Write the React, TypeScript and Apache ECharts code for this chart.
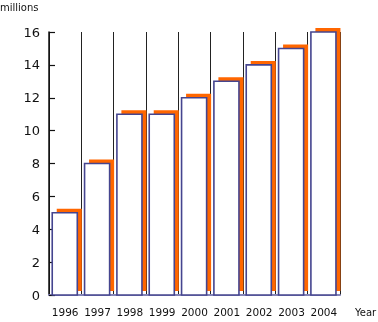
import React, { useEffect, useRef } from "react";
import * as echarts from "echarts";

const years = ["1996", "1997", "1998", "1999", "2000", "2001", "2002", "2003", "2004"];
const values = [5, 8, 11, 11, 12, 13, 14, 15, 16];
const yTicks = { min: 0, max: 16, interval: 2 };

export default function App() {
  const ref = useRef<HTMLDivElement>(null);
  useEffect(() => {
    if (!ref.current) return;
    const chart = echarts.init(ref.current, undefined, { renderer: "svg" });
    const font = "DejaVu Sans, Verdana, sans-serif";
    chart.setOption({
      animation: false,
      grid: { left: 49, right: 38, top: 32, bottom: 27 },
      xAxis: {
        type: "category",
        data: years,
        boundaryGap: true,
        axisLine: { show: true, lineStyle: { color: "#8585b8", width: 2 } },
        axisTick: { show: false },
        axisLabel: { fontSize: 10.5, color: "#111", fontFamily: font, margin: 11, interval: 0 },
        splitLine: { show: true, interval: 0, lineStyle: { color: "#222", width: 1 } },
      },
      yAxis: {
        type: "value",
        min: yTicks.min,
        max: yTicks.max,
        interval: yTicks.interval,
        axisLine: { show: true, lineStyle: { color: "#111", width: 1.5 } },
        axisTick: { show: true, inside: true, length: 6, lineStyle: { color: "#111", width: 1.2 } },
        axisLabel: { fontSize: 13, color: "#111", fontFamily: font, margin: 9 },
        splitLine: { show: false },
      },
      graphic: [
        {
          type: "text",
          x: 0,
          y: 7,
          style: { text: "millions", fontSize: 10, fill: "#111", fontFamily: font, verticalAlign: "middle", align: "left" },
        },
        {
          type: "text",
          x: 355,
          y: 312,
          style: { text: "Year", fontSize: 10, fill: "#111", fontFamily: font, verticalAlign: "middle", align: "left" },
        },
      ],
      series: [
        {
          type: "custom",
          data: values.map((v, i) => [i, v]),
          encode: { x: 0, y: 1 },
          renderItem: (params: any, api: any) => {
            const idx = api.value(0);
            const v = api.value(1);
            const top = api.coord([idx, v]);
            const base = api.coord([idx, 0]);
            const bw = api.size([1, 0])[0];
            const barW = bw * 0.775;
            const x0 = top[0] - bw * 0.4;
            const h = base[1] - top[1];
            const offX = 4.5;
            const offY = 4;
            return {
              type: "group",
              children: [
                {
                  type: "rect",
                  shape: { x: x0 + offX, y: top[1] - offY, width: barW, height: h },
                  style: { fill: "#ff6600" },
                },
                {
                  type: "rect",
                  shape: { x: x0, y: top[1], width: barW, height: h },
                  style: { fill: "#ffffff", stroke: "#45458f", lineWidth: 1.6 },
                },
              ],
            };
          },
        },
      ],
    });
    return () => chart.dispose();
  }, []);
  return <div ref={ref} style={{ position: "fixed", left: 0, top: 0, width: 378, height: 322 }} />;
}
